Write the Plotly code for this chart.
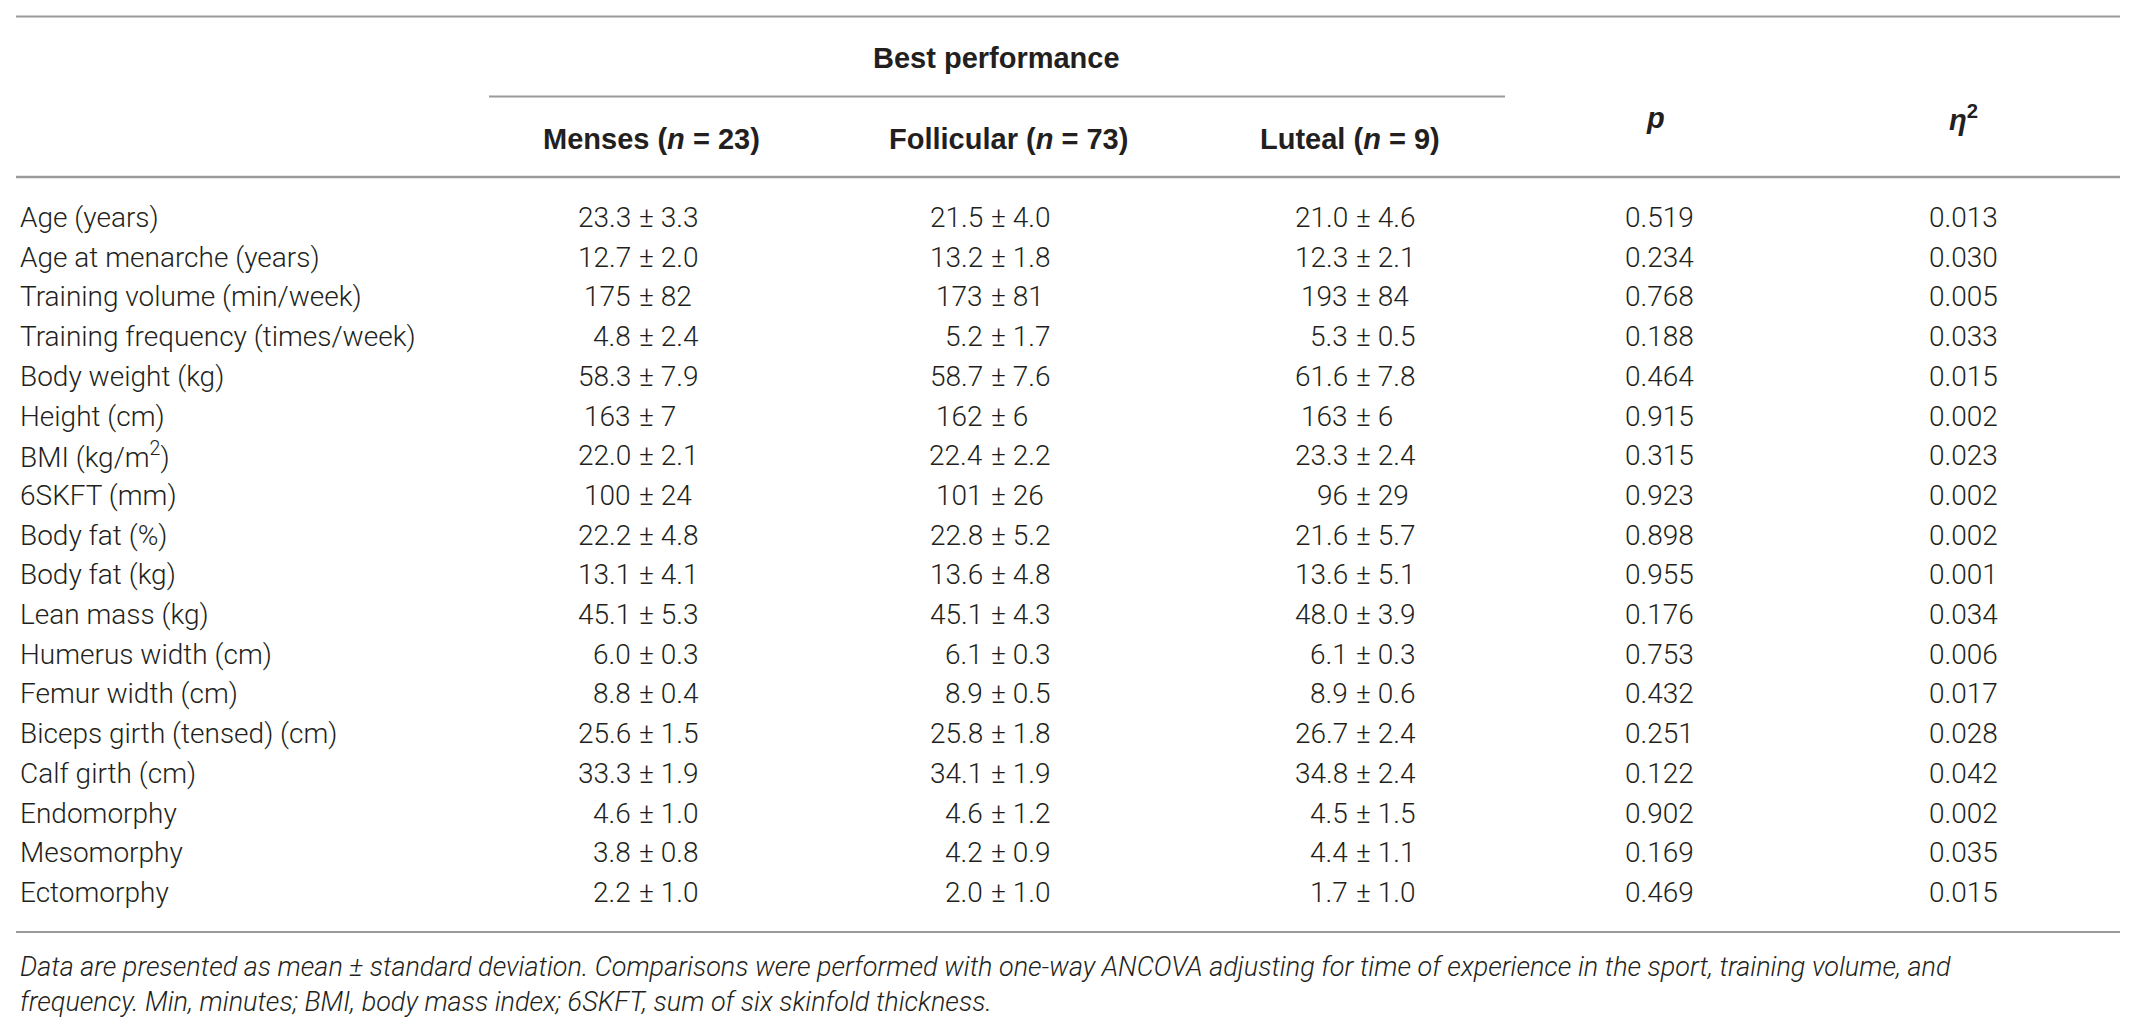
import plotly.graph_objects as go

# ---------------- data ----------------
variables = [
    "Age (years)", "Age at menarche (years)", "Training volume (min/week)",
    "Training frequency (times/week)", "Body weight (kg)", "Height (cm)",
    "BMI (kg/m<sup>2</sup>)", "6SKFT (mm)", "Body fat (%)", "Body fat (kg)",
    "Lean mass (kg)", "Humerus width (cm)", "Femur width (cm)",
    "Biceps girth (tensed) (cm)", "Calf girth (cm)", "Endomorphy",
    "Mesomorphy", "Ectomorphy",
]
menses_mean = ["23.3", "12.7", "175", "4.8", "58.3", "163", "22.0", "100", "22.2",
               "13.1", "45.1", "6.0", "8.8", "25.6", "33.3", "4.6", "3.8", "2.2"]
menses_sd = ["3.3", "2.0", "82", "2.4", "7.9", "7", "2.1", "24", "4.8",
             "4.1", "5.3", "0.3", "0.4", "1.5", "1.9", "1.0", "0.8", "1.0"]
follicular_mean = ["21.5", "13.2", "173", "5.2", "58.7", "162", "22.4", "101", "22.8",
                   "13.6", "45.1", "6.1", "8.9", "25.8", "34.1", "4.6", "4.2", "2.0"]
follicular_sd = ["4.0", "1.8", "81", "1.7", "7.6", "6", "2.2", "26", "5.2",
                 "4.8", "4.3", "0.3", "0.5", "1.8", "1.9", "1.2", "0.9", "1.0"]
luteal_mean = ["21.0", "12.3", "193", "5.3", "61.6", "163", "23.3", "96", "21.6",
               "13.6", "48.0", "6.1", "8.9", "26.7", "34.8", "4.5", "4.4", "1.7"]
luteal_sd = ["4.6", "2.1", "84", "0.5", "7.8", "6", "2.4", "29", "5.7",
             "5.1", "3.9", "0.3", "0.6", "2.4", "2.4", "1.5", "1.1", "1.0"]
p_values = ["0.519", "0.234", "0.768", "0.188", "0.464", "0.915", "0.315", "0.923", "0.898",
            "0.955", "0.176", "0.753", "0.432", "0.251", "0.122", "0.902", "0.169", "0.469"]
eta_sq = ["0.013", "0.030", "0.005", "0.033", "0.015", "0.002", "0.023", "0.002", "0.002",
          "0.001", "0.034", "0.006", "0.017", "0.028", "0.042", "0.002", "0.035", "0.015"]

group_header = "Best performance"
group_cols = ["Menses (<i>n</i> = 23)", "Follicular (<i>n</i> = 73)", "Luteal (<i>n</i> = 9)"]
stat_cols = ["<i>p</i>", "<i>η</i><sup>2</sup>"]
footnote = [
    "Data are presented as mean ± standard deviation. Comparisons were performed with one-way "
    "ANCOVA adjusting for time of experience in the sport, training volume, and",
    "frequency. Min, minutes; BMI, body mass index; 6SKFT, sum of six skinfold thickness.",
]

# ---------------- layout constants ----------------
PAGE_W, PAGE_H = 2130, 1030
BODY_MARGIN = 8                   # default browser body margin around the plot div
TXT = "#231f20"
LINE = "#9a9a9a"
BODY_FONT = "Roboto"
HEAD_FONT = "Liberation Sans"
BODY_SIZE = 28
HEAD_SIZE = 29
NOTE_SIZE = 27

label_x = 18
pm_x = [645, 997, 1362]          # page x of the ± sign in each group column
group_head_x = [651, 1008, 1350]
p_x, eta_x = 1659, 1963
first_row_y, row_h = 217.5, 39.7

fig = go.Figure()
ann = []


def add(text, x, y, xa="left", size=BODY_SIZE, weight=300, italic=False, family=BODY_FONT):
    ann.append(dict(
        text=text, x=x, y=y, xref="x", yref="y", xanchor=xa, yanchor="middle",
        showarrow=False,
        font=dict(family=family, size=size, color=TXT, weight=weight,
                  style="italic" if italic else "normal"),
    ))


# headers
add("<b>" + group_header + "</b>", 996, 58, xa="center", size=HEAD_SIZE, weight=700,
    family=HEAD_FONT)
for t, x in zip(group_cols, group_head_x):
    add("<b>" + t + "</b>", x, 139, xa="center", size=HEAD_SIZE, weight=700, family=HEAD_FONT)
add("<b>" + stat_cols[0] + "</b>", p_x - 4, 118, xa="center", size=HEAD_SIZE, weight=700,
    family=HEAD_FONT)
add("<b>" + stat_cols[1] + "</b>", eta_x, 118, xa="center", size=HEAD_SIZE, weight=700,
    family=HEAD_FONT)

# body rows
groups = [(menses_mean, menses_sd), (follicular_mean, follicular_sd), (luteal_mean, luteal_sd)]
for i, name in enumerate(variables):
    y = first_row_y + i * row_h
    add(name, label_x, y)
    for (means, sds), px in zip(groups, pm_x):
        add(means[i], px - 12, y, xa="right")
        add("± " + sds[i], px - 8, y, xa="left")
    add(p_values[i], p_x, y, xa="center")
    add(eta_sq[i], eta_x, y, xa="center")

# footnote
add(footnote[0], label_x, 967, size=NOTE_SIZE, italic=True)
add(footnote[1], label_x, 1002, size=NOTE_SIZE, italic=True)

# rules
shapes = [
    dict(type="line", x0=16, x1=2120, y0=16.5, y1=16.5, line=dict(color=LINE, width=2)),
    dict(type="line", x0=489, x1=1505, y0=96.5, y1=96.5, line=dict(color=LINE, width=2)),
    dict(type="line", x0=16, x1=2120, y0=177, y1=177, line=dict(color=LINE, width=2.5)),
    dict(type="line", x0=16, x1=2120, y0=932, y1=932, line=dict(color=LINE, width=2)),
]
for s in shapes:
    s.update(xref="x", yref="y")

# the axes are laid out in page pixels: the plot div starts BODY_MARGIN px in
fig.update_layout(
    width=PAGE_W - BODY_MARGIN, height=PAGE_H - BODY_MARGIN,
    margin=dict(l=0, r=0, t=0, b=0),
    paper_bgcolor="white", plot_bgcolor="white",
    xaxis=dict(range=[BODY_MARGIN, PAGE_W], visible=False, fixedrange=True),
    yaxis=dict(range=[PAGE_H, BODY_MARGIN], visible=False, fixedrange=True),
    annotations=ann, shapes=shapes, showlegend=False,
)
fig.write_html("out.html", config={"displayModeBar": False})
